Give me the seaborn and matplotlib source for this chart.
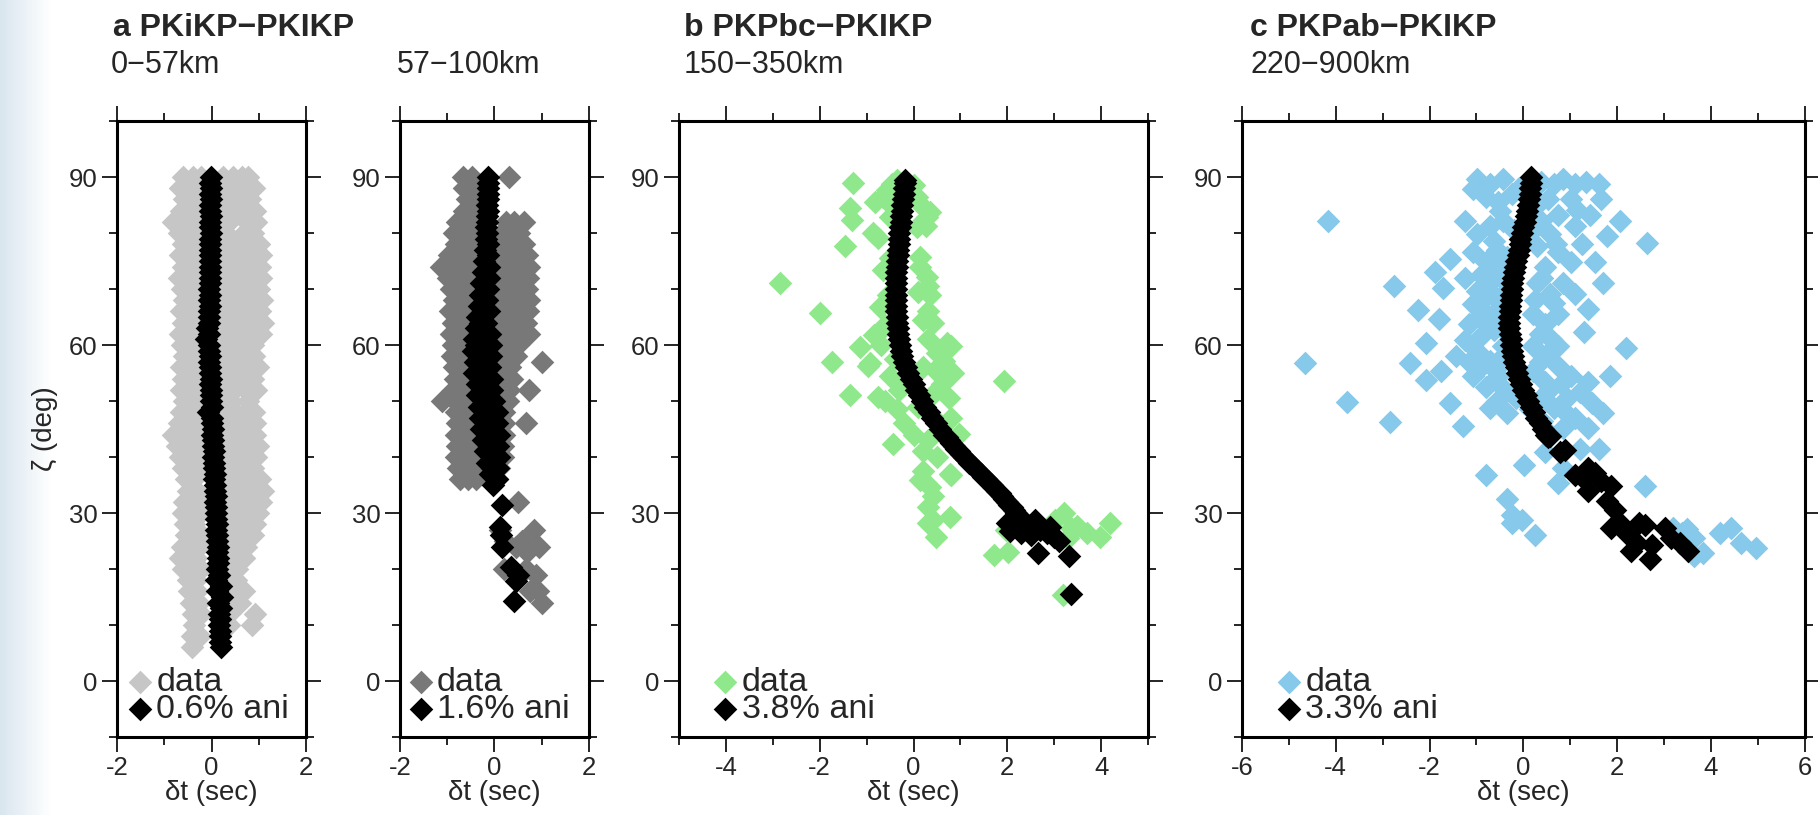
import numpy as np
import pandas as pd
import seaborn as sns
import matplotlib.pyplot as plt
from matplotlib.ticker import MultipleLocator

# panel a, 0-57km : data cloud, rows of (zeta, [dt, ...])
a1_data_rows = [
    (90, [-0.6, -0.4, -0.22, 0.24, 0.45, 0.64, 0.78]),
    (88, [-0.66, -0.48, -0.3, 0.32, 0.52, 0.72, 0.9]),
    (86, [-0.58, -0.4, -0.2, 0.22, 0.43, 0.62, 0.82]),
    (84, [-0.64, -0.46, -0.28, 0.3, 0.5, 0.7, 0.92]),
    (82, [-0.82, -0.58, -0.4, -0.22, 0.25, 0.38, 0.76, 0.95]),
    (80, [-0.68, -0.5, -0.3, 0.3, 0.68, 0.88]),
    (78, [-0.6, -0.42, -0.22, 0.25, 0.46, 0.66, 0.86, 1.0]),
    (76, [-0.66, -0.48, -0.3, 0.32, 0.54, 0.74, 0.94, 1.04]),
    (74, [-0.6, -0.4, -0.2, 0.22, 0.44, 0.64, 0.84, 1.02]),
    (72, [-0.68, -0.5, -0.32, 0.3, 0.5, 0.72, 0.92, 1.05]),
    (70, [-0.62, -0.44, -0.24, 0.22, 0.42, 0.62, 0.84, 1.0]),
    (68, [-0.58, -0.4, -0.2, 0.3, 0.5, 0.72, 0.92, 1.06]),
    (66, [-0.64, -0.46, -0.28, 0.22, 0.44, 0.64, 0.86, 1.02]),
    (64, [-0.6, -0.42, -0.22, 0.3, 0.5, 0.7, 0.9, 1.1]),
    (62, [-0.66, -0.48, -0.3, 0.22, 0.44, 0.64, 0.86, 1.04]),
    (60, [-0.62, -0.44, -0.24, 0.3, 0.5, 0.7, 0.88]),
    (58, [-0.58, -0.4, -0.2, 0.22, 0.44, 0.74, 0.9]),
    (56, [-0.64, -0.46, -0.28, 0.3, 0.5, 0.84, 0.98]),
    (54, [-0.6, -0.42, -0.22, 0.22, 0.44, 0.66, 0.88]),
    (52, [-0.64, -0.46, -0.26, 0.3, 0.48, 0.74, 0.94]),
    (50, [-0.58, -0.4, -0.2, 0.22, 0.42, 0.78]),
    (48, [-0.64, -0.46, -0.28, 0.3, 0.5, 0.7, 0.9]),
    (46, [-0.68, -0.5, -0.32, 0.22, 0.44, 0.72, 0.92]),
    (44, [-0.82, -0.6, -0.42, -0.22, 0.3, 0.52, 0.72, 0.92]),
    (42, [-0.74, -0.55, -0.35, 0.22, 0.42, 0.62, 0.86, 0.98]),
    (40, [-0.66, -0.48, -0.3, 0.3, 0.52, 0.72, 0.94]),
    (38, [-0.6, -0.42, -0.22, 0.22, 0.44, 0.64, 0.88]),
    (36, [-0.54, -0.36, 0.3, 0.52, 0.72, 0.92, 1.02]),
    (34, [-0.5, -0.3, 0.25, 0.46, 0.66, 0.86, 1.04, 1.1]),
    (32, [-0.58, -0.4, -0.2, 0.32, 0.52, 0.74, 0.94, 1.04]),
    (30, [-0.6, -0.42, -0.22, 0.25, 0.46, 0.66, 0.86, 0.98]),
    (28, [-0.56, -0.38, 0.32, 0.52, 0.72, 0.92]),
    (26, [-0.54, -0.35, -0.2, 0.3, 0.5, 0.7, 0.88]),
    (24, [-0.62, -0.44, -0.26, 0.32, 0.54, 0.74]),
    (22, [-0.66, -0.5, -0.32, 0.3, 0.5, 0.68]),
    (20, [-0.6, -0.42, -0.22, 0.34, 0.54]),
    (18, [-0.5, -0.32, 0.36, 0.52]),
    (16, [-0.48, -0.3, 0.38, 0.68]),
    (14, [-0.44, -0.26, 0.42, 0.6]),
    (12, [-0.4, -0.22, 0.38, 0.92]),
    (10, [-0.36, 0.36, 0.86]),
    (8, [-0.42, -0.25]),
    (6, [-0.42]),
]
# model curve, (zeta, dt)
a1_model = [
    (90, -0.02), (89, -0.03), (88, -0.02), (87, -0.03), (86, -0.02), (85, -0.03),
    (84, -0.03), (83, -0.02), (82, -0.03), (81, -0.03), (80, -0.02), (79, -0.03),
    (78, -0.04), (77, -0.03), (76, -0.03), (75, -0.04), (74, -0.03), (73, -0.04),
    (72, -0.03), (71, -0.04), (70, -0.05), (69, -0.04), (68, -0.05), (67, -0.04),
    (66, -0.05), (65, -0.06), (64, -0.05), (63, -0.1), (62, -0.06), (61, -0.11),
    (60, -0.05), (59, -0.06), (58, -0.04), (57, -0.05), (56, -0.03), (55, -0.04),
    (54, -0.02), (53, -0.03), (52, -0.02), (51, -0.01), (50, -0.02), (49, 0.0),
    (48, -0.08), (47, 0.01), (46, 0.02), (45, 0.03), (44, 0.02), (43, 0.04),
    (42, 0.03), (41, 0.05), (40, 0.04), (39, 0.06), (38, 0.05), (37, 0.07),
    (36, 0.06), (35, 0.08), (34, 0.07), (33, 0.09), (32, 0.08), (31, 0.1),
    (30, 0.09), (29, 0.1), (28, 0.11), (27, 0.1), (26, 0.12), (25, 0.11),
    (24, 0.13), (23, 0.12), (22, 0.14), (21, 0.13), (20, 0.12), (19, 0.16),
    (18, 0.1), (17, 0.2), (16, 0.12), (15, 0.22), (14, 0.14), (13, 0.2),
    (12, 0.15), (11, 0.18), (10, 0.16), (9, 0.18), (8, 0.17), (7, 0.18), (6, 0.2),
]

# panel a, 57-100km
a2_data_rows = [
    (90, [-0.66, -0.48, 0.3]),
    (88, [-0.64, -0.46, -0.3]),
    (86, [-0.58, -0.4]),
    (84, [-0.64, -0.46, -0.3]),
    (82, [-0.8, -0.62, -0.44, 0.25, 0.42, 0.62]),
    (80, [-0.86, -0.68, -0.5, -0.34, 0.15, 0.33, 0.52]),
    (78, [-0.82, -0.64, -0.46, 0.1, 0.28, 0.46, 0.62]),
    (76, [-0.96, -0.8, -0.62, -0.46, 0.2, 0.4, 0.58, 0.68]),
    (74, [-1.14, -0.9, -0.74, -0.56, 0.1, 0.28, 0.46, 0.64, 0.72]),
    (72, [-0.98, -0.82, -0.66, -0.48, 0.18, 0.38, 0.56, 0.7]),
    (70, [-0.92, -0.76, -0.6, -0.44, 0.12, 0.3, 0.5, 0.68]),
    (68, [-0.86, -0.7, -0.54, 0.1, 0.28, 0.46, 0.64, 0.72]),
    (66, [-0.94, -0.78, -0.62, 0.12, 0.34, 0.54, 0.7]),
    (64, [-0.88, -0.72, -0.56, 0.12, 0.3, 0.5, 0.66]),
    (62, [-0.92, -0.76, -0.6, 0.15, 0.36, 0.56, 0.72]),
    (60, [-0.88, -0.72, -0.58, 0.12, 0.3, 0.5]),
    (58, [-0.9, -0.74, -0.58, 0.14, 0.34, 0.46]),
    (57, [1.0]),
    (56, [-0.86, -0.7, 0.15, 0.32]),
    (54, [-0.84, -0.68, 0.2, 0.38]),
    (52, [-0.88, -0.72, 0.15, 0.3, 0.74]),
    (50, [-1.12, -0.84, -0.66, 0.18, 0.28]),
    (48, [-0.82, -0.66, 0.2]),
    (46, [-0.8, -0.62, 0.2, 0.66]),
    (44, [-0.82, -0.66, -0.5, 0.2]),
    (42, [-0.8, -0.62, -0.46, 0.18]),
    (40, [-0.82, -0.66, -0.5, 0.18]),
    (38, [-0.78, -0.62, -0.46, 0.1]),
    (36, [-0.72, -0.56, -0.4, 0.05]),
    (32, [0.5]),
    (27, [0.12, 0.84]),
    (25, [0.22, 0.58]),
    (24, [0.46, 0.95]),
    (23, [0.68]),
    (20, [0.2, 0.66]),
    (19, [0.88]),
    (16, [0.76, 0.92]),
    (14, [1.0]),
]
a2_model = [
    (90, -0.13), (89, -0.13), (88, -0.14), (87, -0.13), (86, -0.14), (85, -0.15),
    (84, -0.14), (83, -0.16), (82, -0.15), (81, -0.17), (80, -0.15), (79, -0.18),
    (78, -0.14), (77, -0.2), (76, -0.13), (75, -0.22), (74, -0.12), (73, -0.25),
    (72, -0.12), (71, -0.28), (70, -0.13), (69, -0.3), (68, -0.15), (67, -0.33),
    (66, -0.12), (65, -0.36), (64, -0.18), (63, -0.4), (62, -0.1), (61, -0.44),
    (60, -0.25), (59, -0.45), (58, -0.08), (57, -0.42), (56, -0.25), (55, -0.44),
    (54, -0.05), (53, -0.38), (52, -0.2), (51, -0.36), (50, 0.0), (49, -0.33),
    (48, -0.15), (47, -0.3), (46, 0.06), (45, -0.28), (44, -0.08), (43, -0.25),
    (42, 0.08), (41, -0.2), (40, -0.02), (39, -0.15), (38, 0.08), (37, -0.1),
    (36, 0.05), (35, -0.04),
    (66, -0.24), (64, -0.3), (62, -0.3), (60, -0.08), (60, -0.4), (58, -0.3),
    (56, -0.1), (54, -0.25), (52, -0.05), (50, -0.2), (48, 0.05), (46, -0.12),
    (44, 0.1), (42, -0.12), (40, 0.1), (38, -0.05),
    (31.4, 0.15), (27.5, 0.12), (26, 0.14), (24, 0.15), (20.4, 0.35), (19, 0.5),
    (17.8, 0.45), (14.2, 0.42),
]

# panel b, 150-350km : data as (dt, zeta)
b_data_pts = [
    (-1.28, 89.0), (-1.35, 84.4), (-1.32, 82.3), (-0.82, 85.6), (-0.64, 86.5), (-0.57, 87.7),
    (-0.45, 88.8), (-0.35, 89.5), (-0.43, 84.7), (-0.5, 82.9), (0.07, 86.5), (0.0, 88.5),
    (0.15, 85.0), (0.28, 82.9), (0.35, 83.8), (0.07, 81.0), (0.26, 81.3), (-0.86, 80.0),
    (-0.75, 79.2), (-1.46, 77.6), (-2.85, 71.0), (-1.99, 65.7), (-0.64, 73.4), (-0.5, 75.5),
    (0.14, 74.0), (0.13, 75.7), (0.28, 72.2), (0.3, 70.5), (0.35, 68.9), (0.1, 69.5),
    (-0.55, 69.0), (-0.71, 66.8), (-0.45, 64.0), (-0.78, 62.0), (-0.6, 63.5), (0.2, 64.5),
    (0.42, 63.9), (0.3, 66.0), (-1.14, 59.7), (-1.74, 57.0), (-0.93, 56.7), (-1.35, 51.0),
    (-0.98, 56.2), (-0.85, 61.8), (-0.7, 60.0), (0.71, 60.3), (0.81, 59.9), (0.64, 57.2),
    (0.85, 55.0), (0.5, 58.5), (0.3, 61.0), (0.45, 55.5), (0.6, 53.0), (0.2, 56.0),
    (-0.4, 57.5), (-0.5, 54.5), (-0.3, 52.0), (0.4, 51.0), (0.75, 50.5), (1.92, 53.5),
    (-0.75, 50.8), (-0.6, 50.0), (-0.35, 48.5), (0.1, 49.0), (0.81, 46.9), (0.55, 46.0),
    (-0.2, 46.0), (-0.43, 42.4), (0.0, 44.0), (0.3, 43.0), (0.2, 41.0), (0.5, 40.0),
    (0.98, 44.1), (0.14, 35.9), (0.35, 34.7), (0.78, 37.0), (0.81, 36.7), (0.2, 37.5),
    (0.42, 33.0), (0.3, 31.0), (0.42, 28.7), (0.78, 29.3), (0.49, 25.8), (0.3, 28.3),
    (1.71, 22.5), (2.02, 23.1), (1.98, 27.0), (3.2, 30.0), (3.02, 28.8), (3.48, 27.6),
    (3.36, 27.4), (3.7, 26.5), (4.19, 28.2), (3.98, 25.8), (3.3, 25.5), (3.19, 15.3),
]
b_model = [
    (89.5, -0.18), (89, -0.19), (88, -0.2), (87, -0.21), (86, -0.23), (85, -0.24),
    (84, -0.25), (83, -0.26), (82, -0.27), (81, -0.29), (80, -0.3), (79, -0.31),
    (78, -0.32), (77, -0.33), (76, -0.34), (75, -0.35), (74, -0.36), (73, -0.37),
    (72, -0.37), (71, -0.38), (70, -0.38), (69, -0.38), (68, -0.38), (67, -0.38),
    (66, -0.37), (65, -0.36), (64, -0.35), (63, -0.34), (62, -0.33), (61, -0.31),
    (60, -0.29), (59, -0.27), (58, -0.24), (57, -0.2), (56, -0.16), (55, -0.11),
    (54, -0.06), (53, 0.0), (52, 0.06), (51, 0.12), (50, 0.18), (49, 0.25),
    (48, 0.32), (47, 0.4), (46, 0.48), (45, 0.57), (44, 0.66), (43.5, 0.71),
    (43, 0.76), (42.5, 0.81), (42, 0.86), (41.5, 0.91), (41, 0.96), (40.5, 1.02),
    (40, 1.07), (39.5, 1.13), (39, 1.19), (38.5, 1.25), (38, 1.31), (37.5, 1.37),
    (37, 1.43), (36.5, 1.49), (36, 1.55), (35.5, 1.61), (35, 1.67), (34.5, 1.72),
    (34, 1.78), (33.5, 1.84), (33, 1.89), (32.5, 1.94), (32, 1.99), (31.5, 2.04),
    (31, 2.09), (30.5, 2.14), (30, 2.19), (29.5, 2.24), (29, 2.3),
    (28.5, 2.15), (28.2, 2.0), (27.3, 2.2), (27.8, 2.45), (28.8, 2.6), (27.0, 2.7),
    (26.0, 2.5), (26.5, 2.85), (25.7, 3.0), (25.0, 3.1), (26.5, 2.3), (27.5, 2.9),
    (26.8, 2.05), (22.8, 2.65), (22.3, 3.32), (15.5, 3.36),
]

# panel c, 220-900km : data as (dt, zeta)
c_data_pts = [
    (-0.98, 89.7), (-0.71, 88.8), (-0.44, 89.7), (-0.8, 86.4), (-0.53, 85.5), (-1.07, 87.8),
    (-0.25, 86.9), (0.38, 89.2), (0.65, 88.8), (0.52, 86.0), (0.84, 89.7), (1.11, 88.8),
    (1.02, 86.0), (1.34, 89.2), (1.61, 88.8), (1.65, 86.0), (1.43, 83.2), (1.15, 84.1),
    (0.75, 83.2), (0.38, 82.2), (0.56, 79.9), (1.11, 81.3), (2.06, 82.2), (1.79, 79.5),
    (2.65, 78.3), (-1.25, 82.2), (-0.98, 79.9), (-0.71, 81.3), (-0.44, 82.2), (-0.62, 78.5),
    (-1.07, 76.7), (-0.8, 74.8), (-0.35, 75.7), (0.29, 77.6), (0.75, 76.7), (1.02, 74.8),
    (0.47, 73.9), (1.52, 74.8), (-1.57, 75.3), (-1.89, 73.0), (-1.71, 70.2), (-2.75, 70.6),
    (-1.25, 72.0), (-0.98, 69.7), (-0.71, 71.1), (-0.44, 69.2), (-1.07, 67.4), (-0.8, 65.5),
    (-0.53, 66.4), (-1.16, 63.7), (-0.89, 61.8), (-0.62, 62.7), (-0.44, 59.9), (-0.98, 59.0),
    (-0.71, 57.2), (-1.25, 60.9), (-1.44, 58.1), (-1.75, 55.3), (-2.07, 60.4), (-1.8, 64.6),
    (-2.25, 66.3), (-2.42, 56.7), (-2.07, 53.7), (-1.57, 49.7), (-1.28, 45.5), (-4.66, 56.7),
    (-3.75, 49.9), (-2.85, 46.2), (-4.16, 82.2), (-1.07, 54.4), (-0.8, 52.5), (-0.53, 54.4),
    (-0.71, 48.8), (-0.35, 47.9), (-0.16, 50.6), (0.29, 71.1), (0.56, 69.2), (0.84, 71.1),
    (1.11, 69.2), (1.7, 71.1), (0.2, 65.5), (0.47, 63.7), (0.75, 65.5), (1.38, 66.4),
    (1.29, 62.3), (0.2, 59.9), (0.47, 58.1), (0.75, 59.9), (2.2, 59.5), (0.2, 55.3),
    (0.47, 53.4), (0.75, 56.2), (1.02, 54.4), (1.38, 53.4), (1.84, 54.4), (0.38, 50.6),
    (0.65, 48.8), (0.93, 50.6), (1.2, 51.6), (1.47, 49.7), (1.7, 47.9), (1.11, 46.9),
    (1.38, 45.1), (0.84, 45.1), (1.61, 41.4), (0.47, 40.9), (1.2, 41.4), (0.75, 35.3),
    (0.84, 38.1), (0.02, 38.6), (-0.8, 36.7), (-0.35, 32.5), (-0.25, 29.7), (-0.25, 28.3),
    (-0.03, 28.8), (0.25, 26.0), (2.6, 34.9),
    (3.38, 26.5), (3.65, 25.6), (3.65, 22.3), (3.84, 22.8), (4.2, 26.5), (4.43, 27.4),
    (4.65, 24.6), (4.97, 23.7), (3.2, 27.4), (3.5, 27.2),
    (-0.9, 72.5), (-0.6, 74.0), (-0.45, 72.0), (-0.55, 77.0), (-0.85, 68.0), (-0.6, 68.5),
    (-0.95, 65.0), (-0.65, 64.0), (-0.45, 63.0), (-0.5, 57.5), (-0.9, 56.0), (-0.6, 55.5),
    (-1.15, 57.0), (-0.4, 52.0), (-0.55, 50.0), (0.15, 48.5), (0.4, 46.5), (0.6, 44.0),
    (0.9, 48.0), (0.55, 52.0), (0.8, 53.0), (0.35, 57.0), (0.6, 61.0), (0.35, 62.0),
    (0.25, 68.0), (0.65, 67.5), (0.4, 72.0), (0.15, 80.0), (0.7, 78.0), (1.25, 78.0),
    (-0.2, 80.5), (-0.5, 84.0), (0.3, 85.0), (-0.1, 88.0),
]
c_model = [
    (90, 0.17), (89, 0.16), (88, 0.15), (87, 0.14), (86, 0.12), (85, 0.1),
    (84, 0.07), (83, 0.05), (82, 0.03), (81, 0.0), (80, -0.03), (79, -0.06),
    (78, -0.08), (77, -0.1), (76, -0.12), (75, -0.15), (74, -0.17), (73, -0.19),
    (72, -0.21), (71, -0.23), (70, -0.24), (69, -0.26), (68, -0.27), (67, -0.28),
    (66, -0.29), (65, -0.3), (64, -0.3), (63, -0.3), (62, -0.29), (61, -0.27),
    (60, -0.26), (59, -0.24), (58, -0.22), (57, -0.19), (56, -0.16), (55, -0.13),
    (54, -0.09), (53, -0.05), (52, 0.0), (51, 0.05), (50, 0.1), (49, 0.16),
    (48, 0.22), (47, 0.28), (46, 0.35), (45, 0.42), (44, 0.48), (43.5, 0.52),
    (43.7, 0.56), (40.9, 0.79), (41.3, 0.9), (36.7, 1.11), (38.1, 1.38), (37.2, 1.52),
    (33.9, 1.38), (35.8, 1.65), (34.9, 1.88), (32.1, 1.79), (27.4, 1.88), (28.3, 2.06),
    (26.5, 2.2), (23.2, 2.29), (28.3, 2.47), (27.9, 2.6), (24.2, 2.75), (21.8, 2.7),
    (27.4, 3.02), (25.6, 3.15), (24.6, 3.34), (23.2, 3.52), (24.6, 2.43), (30.5, 1.95),
    (36.0, 1.3),
]

a1_color = '#c6c6c6'
a2_color = '#787878'
b_color = '#90e88c'
c_color = '#87c9ea'

MS = 145  # marker area in pt^2


def rows_to_df(rows):
    return pd.DataFrame([(dt, z) for z, dts in rows for dt in dts], columns=['dt', 'zeta'])


def model_to_df(pairs):
    return pd.DataFrame([(dt, z) for z, dt in pairs], columns=['dt', 'zeta'])


def pts_to_df(pts):
    return pd.DataFrame(pts, columns=['dt', 'zeta'])


def draw_panel(ax, data_df, model_df, color, ani_label, xlim, leg_x, ylabel=False):
    sns.scatterplot(data=data_df, x='dt', y='zeta', marker='D', s=MS, color=color,
                    linewidth=0, ax=ax, label='data', zorder=2)
    sns.scatterplot(data=model_df, x='dt', y='zeta', marker='D', s=MS, color='black',
                    linewidth=0, ax=ax, label=ani_label, zorder=3)
    ax.set_xlim(xlim)
    ax.set_ylim(-10, 100)
    ax.xaxis.set_major_locator(MultipleLocator(2))
    ax.xaxis.set_minor_locator(MultipleLocator(1))
    ax.yaxis.set_major_locator(MultipleLocator(30))
    ax.yaxis.set_minor_locator(MultipleLocator(10))
    ax.tick_params(which='both', direction='out', top=True, right=True,
                   labelsize=18.5, width=1.2, color='black')
    ax.tick_params(which='major', length=10.5, pad=3.5)
    ax.tick_params(which='minor', length=5.5)
    for sp in ax.spines.values():
        sp.set_linewidth(2.2)
        sp.set_color('black')
    ax.set_xlabel('δt (sec)', fontsize=20, labelpad=0)
    if ylabel:
        ax.set_ylabel('ζ (deg)', fontsize=20, labelpad=8)
    else:
        ax.set_ylabel('')
    ax.legend(loc='lower left', bbox_to_anchor=(leg_x, 0.02), frameon=False,
              fontsize=24.5, handlelength=0.55, handletextpad=0.2, borderpad=0,
              borderaxespad=0, labelspacing=-0.13, markerscale=1)


def make_figure():
    sns.set_style('ticks')
    plt.rcParams['font.family'] = ['Liberation Sans', 'DejaVu Sans']
    plt.rcParams['axes.unicode_minus'] = False

    fig = plt.figure(figsize=(18.18, 8.15), dpi=100)

    # faint slide edge on the far left
    bg = fig.add_axes([0, 0, 0.028, 1])
    grad = np.linspace(0, 1, 64).reshape(1, -1)
    bg.imshow(grad, aspect='auto', cmap=sns.blend_palette(['#d9e6ef', '#ffffff'], as_cmap=True))
    bg.set_axis_off()

    bottom, height = 0.0957, 0.7558
    ax_a1 = fig.add_axes([0.06436, bottom, 0.10396, height])
    ax_a2 = fig.add_axes([0.22002, bottom, 0.10396, height])
    ax_b = fig.add_axes([0.37349, bottom, 0.25798, height])
    ax_c = fig.add_axes([0.68317, bottom, 0.30941, height])

    draw_panel(ax_a1, rows_to_df(a1_data_rows), model_to_df(a1_model), a1_color,
               '0.6% ani', (-2, 2), 0.072, ylabel=True)
    draw_panel(ax_a2, rows_to_df(a2_data_rows), model_to_df(a2_model), a2_color,
               '1.6% ani', (-2, 2), 0.06)
    draw_panel(ax_b, pts_to_df(b_data_pts), model_to_df(b_model), b_color,
               '3.8% ani', (-5, 5), 0.079)
    draw_panel(ax_c, pts_to_df(c_data_pts), model_to_df(c_model), c_color,
               '3.3% ani', (-6, 6), 0.067)

    # panel titles
    fig.text(0.0622, 0.9558, 'a PKiKP−PKIKP', fontsize=23, fontweight='bold', va='baseline')
    fig.text(0.0611, 0.9104, '0−57km', fontsize=22, va='baseline')
    fig.text(0.2184, 0.9104, '57−100km', fontsize=22, va='baseline')
    fig.text(0.3762, 0.9558, 'b PKPbc−PKIKP', fontsize=23, fontweight='bold', va='baseline')
    fig.text(0.3762, 0.9104, '150−350km', fontsize=22, va='baseline')
    fig.text(0.6876, 0.9558, 'c PKPab−PKIKP', fontsize=23, fontweight='bold', va='baseline')
    fig.text(0.6876, 0.9104, '220−900km', fontsize=22, va='baseline')

    fig.savefig('out.png', dpi=100)
    plt.close(fig)


if __name__ == "__main__":
    make_figure()
